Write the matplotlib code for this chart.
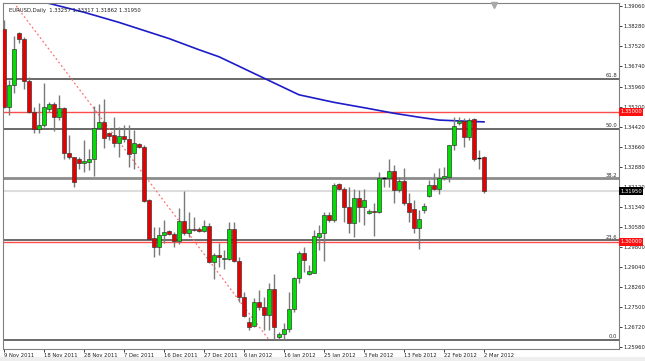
"""EURUSD daily candles with 200 MA, fibonacci retracement and key levels."""
import matplotlib.pyplot as plt
from matplotlib.patches import Rectangle
from matplotlib.transforms import blended_transform_factory

# daily bars from 9 Nov 2011 to 2 Mar 2012 (broker shows Sunday bars too)
opens = [1.3818, 1.3518, 1.3603, 1.3802, 1.3779, 1.3618, 1.3499, 1.3434, 1.3449, 1.3510,
         1.3530, 1.3480, 1.3514, 1.3342, 1.3326, 1.3318, 1.3303, 1.3307, 1.3318, 1.3438,
         1.3461, 1.3418, 1.3411, 1.3380, 1.3407, 1.3395, 1.3342, 1.3376, 1.3365, 1.3161,
         1.3015, 1.2981, 1.3027, 1.3042, 1.3030, 1.3004, 1.3080, 1.3034, 1.3050, 1.3050,
         1.3042, 1.3061, 1.2923, 1.2950, 1.2934, 1.2934, 1.3050, 1.2927, 1.2789, 1.2693,
         1.2677, 1.2769, 1.2750, 1.2719, 1.2819, 1.2635, 1.2646, 1.2666, 1.2742, 1.2862,
         1.2958, 1.2877, 1.2881, 1.3019, 1.3034, 1.3103, 1.3084, 1.3222, 1.3203, 1.3134,
         1.3073, 1.3169, 1.3134, 1.3111, 1.3119, 1.3115, 1.3246, 1.3246, 1.3272, 1.3199,
         1.3234, 1.3150, 1.3126, 1.3054, 1.3123, 1.3176, 1.3219, 1.3203, 1.3246, 1.3249,
         1.3372, 1.3457, 1.3464, 1.3403, 1.3472, 1.3324, 1.33257]
highs = [1.3852, 1.3622, 1.3791, 1.3806, 1.3787, 1.3633, 1.3518, 1.3534, 1.3610, 1.3537,
         1.3537, 1.3564, 1.3518, 1.3411, 1.3326, 1.3326, 1.3391, 1.3357, 1.3522, 1.3530,
         1.3549, 1.3422, 1.3480, 1.3441, 1.3449, 1.3449, 1.3430, 1.3380, 1.3372, 1.3165,
         1.3057, 1.3057, 1.3084, 1.3046, 1.3038, 1.3130, 1.3196, 1.3115, 1.3096, 1.3057,
         1.3084, 1.3073, 1.2958, 1.2996, 1.2969, 1.3077, 1.3077, 1.2942, 1.2808, 1.2712,
         1.2786, 1.2816, 1.2789, 1.2842, 1.2877, 1.2654, 1.2689, 1.2808, 1.2865, 1.2965,
         1.2981, 1.2911, 1.3046, 1.3065, 1.3115, 1.3115, 1.3226, 1.3226, 1.3211, 1.3211,
         1.3203, 1.3199, 1.3203, 1.3126, 1.3150, 1.3269, 1.3249, 1.3318, 1.3295, 1.3249,
         1.3284, 1.3188, 1.3161, 1.3123, 1.3150, 1.3238, 1.3265, 1.3284, 1.3288, 1.3372,
         1.3480, 1.3480, 1.3476, 1.3476, 1.3476, 1.3353, 1.33317]
lows = [1.3514, 1.3487, 1.3572, 1.3764, 1.3587, 1.3495, 1.3418, 1.3418, 1.3441, 1.3499,
        1.3426, 1.3468, 1.3318, 1.3318, 1.3211, 1.3280, 1.3269, 1.3276, 1.3253, 1.3434,
        1.3361, 1.3391, 1.3365, 1.3326, 1.3384, 1.3288, 1.3280, 1.3361, 1.3153, 1.3007,
        1.2942, 1.2950, 1.2996, 1.3027, 1.2981, 1.2992, 1.3027, 1.3019, 1.3042, 1.3038,
        1.3038, 1.2919, 1.2858, 1.2904, 1.2896, 1.2931, 1.2923, 1.2769, 1.2712, 1.2662,
        1.2673, 1.2739, 1.2662, 1.2662, 1.2623, 1.2627, 1.2623, 1.2654, 1.2731, 1.2842,
        1.2885, 1.2873, 1.2881, 1.2969, 1.2927, 1.3077, 1.3077, 1.3199, 1.3077, 1.3034,
        1.3019, 1.3077, 1.3065, 1.3107, 1.3023, 1.3111, 1.3211, 1.3211, 1.3150, 1.3192,
        1.3142, 1.3077, 1.3034, 1.2973, 1.3111, 1.3173, 1.3199, 1.3184, 1.3238, 1.3230,
        1.3353, 1.3449, 1.3365, 1.3391, 1.3311, 1.3280, 1.31862]
closes = [1.3518, 1.3603, 1.3741, 1.3779, 1.3618, 1.3499, 1.3434, 1.3449, 1.3518, 1.3530,
          1.3480, 1.3514, 1.3342, 1.3326, 1.3230, 1.3303, 1.3311, 1.3318, 1.3438, 1.3461,
          1.3399, 1.3407, 1.3380, 1.3407, 1.3395, 1.3338, 1.3380, 1.3365, 1.3157, 1.3011,
          1.2981, 1.3027, 1.3038, 1.3030, 1.3004, 1.3080, 1.3034, 1.3050, 1.3046, 1.3042,
          1.3061, 1.2923, 1.2950, 1.2942, 1.2938, 1.3050, 1.2927, 1.2789, 1.2716, 1.2673,
          1.2769, 1.2750, 1.2719, 1.2819, 1.2673, 1.2646, 1.2666, 1.2742, 1.2862, 1.2958,
          1.2931, 1.2888, 1.3023, 1.3034, 1.3103, 1.3084, 1.3219, 1.3203, 1.3134, 1.3073,
          1.3169, 1.3134, 1.3161, 1.3119, 1.3115, 1.3246, 1.3246, 1.3272, 1.3199, 1.3234,
          1.3150, 1.3115, 1.3054, 1.3088, 1.3138, 1.3219, 1.3203, 1.3246, 1.3253, 1.3372,
          1.3445, 1.3464, 1.3403, 1.3468, 1.3318, 1.3324, 1.31950]

ma_idx = [0, 9, 16, 23, 33, 39, 43, 51, 59, 66, 73, 78, 83, 87, 93, 96]
ma_val = [1.3955, 1.3916, 1.3882, 1.3843, 1.3781, 1.3738, 1.3711, 1.3638, 1.3565,
          1.3536, 1.3512, 1.3494, 1.3479, 1.3468, 1.3463, 1.3461]

date_idx = [0, 8, 16, 24, 32, 40, 48, 56, 64, 72, 80, 88, 96]
date_lbl = ['9 Nov 2011', '18 Nov 2011', '28 Nov 2011', '7 Dec 2011', '16 Dec 2011',
            '27 Dec 2011', '6 Jan 2012', '16 Jan 2012', '25 Jan 2012', '3 Feb 2012',
            '13 Feb 2012', '22 Feb 2012', '2 Mar 2012']
price_ticks = [1.39060, 1.38280, 1.37520, 1.36740, 1.35960, 1.35200, 1.34420, 1.33660,
               1.32880, 1.32120, 1.31340, 1.30580, 1.29800, 1.29040, 1.28260, 1.27500,
               1.26720, 1.25960]

fib_low, fib_high = 1.2624, 1.4247
fib_pct = [0.0, 23.6, 38.2, 50.0, 61.8]
fib_start_idx, fib_end_idx = -11, 53
red_levels = [1.35000, 1.30000]
last_price = 1.31950

fig = plt.figure(figsize=(6.45, 3.61), dpi=100, facecolor='white')
ax = fig.add_axes([3 / 645, 12 / 361, 616 / 645, 346 / 361])
ax.set_xlim(-0.2, 123)
ax.set_ylim(1.25888, 1.39175)

# outer gray strip under the date labels
fig.patches.append(Rectangle((0, 0), 1, 4 / 361, transform=fig.transFigure,
                             facecolor='#eeeeee', edgecolor='none'))

yax = blended_transform_factory(ax.transAxes, ax.transData)

# levels
for pct in fib_pct:
    lvl = fib_low + (fib_high - fib_low) * pct / 100
    col, lw = ('#8c8c8c', 2.0) if pct == 38.2 else ('#505050', 1.2)
    ax.axhline(lvl, color=col, lw=lw, zorder=1)
    ax.text(0.997, lvl + 0.0002, f'{pct:.1f}', transform=yax,
            ha='right', va='bottom', fontsize=3.8, color='#303030')
for lvl in red_levels:
    ax.axhline(lvl, color='#ff4d4d', lw=1.0, zorder=1)
ax.axhline(last_price, color='#dddddd', lw=1.5, zorder=0.5)

# fibonacci trend line
ax.plot([fib_start_idx, fib_end_idx], [fib_high, fib_low], color='#ff7070',
        lw=0.9, ls=(0, (1.5, 2)), zorder=1.5)

# moving average
ax.plot(ma_idx, ma_val, color='#1c1cc8', lw=1.2, zorder=2)

# candles
n = len(opens)
xs = list(range(n))
ax.vlines(xs, lows, highs, color='#7a7a7a', lw=1.0, zorder=3)
for i in xs:
    o, c = opens[i], closes[i]
    if abs(c - o) < 0.00005:
        ax.hlines(o, i - 0.35, i + 0.35, color='black', lw=1.0, zorder=4)
        continue
    col = '#00e000' if c > o else '#e80000'
    ax.bar(i, abs(c - o), bottom=min(o, c), width=0.62, color=col,
           edgecolor='#3a3a3a', linewidth=0.5, zorder=4)

# axes styling
for side in ['left', 'top', 'right', 'bottom']:
    ax.spines[side].set_color('#808080')
    ax.spines[side].set_linewidth(0.8)
ax.yaxis.tick_right()
ax.set_yticks(price_ticks)
ax.set_yticklabels([f'{p:.5f}' for p in price_ticks])
ax.tick_params(axis='y', length=2, width=0.6, pad=1.5, labelsize=3.8, colors='#202020')
ax.set_xticks(date_idx)
ax.set_xticklabels(date_lbl, ha='left')
ax.tick_params(axis='x', length=2, width=0.6, pad=1, labelsize=3.8, colors='#202020')

# price boxes on the scale
for lvl in red_levels:
    ax.text(1.002, lvl, f'{lvl:.5f}', transform=yax, ha='left', va='center', fontsize=3.8,
            color='white', bbox=dict(boxstyle='square,pad=0.25', fc='#ff1010', ec='none'))
ax.text(1.002, last_price, f'{last_price:.5f}', transform=yax, ha='left', va='center',
        fontsize=3.8, color='white', bbox=dict(boxstyle='square,pad=0.25', fc='black', ec='none'))

# header and chart shift marker
ax.text(0.01, 0.985, 'EURUSD,Daily  1.33257 1.33317 1.31862 1.31950', transform=ax.transAxes,
        ha='left', va='top', fontsize=3.8, color='#202020', zorder=6)
ax.plot([98], [0.995], marker='v', color='#a8a8a8', ms=4, transform=ax.get_xaxis_transform(),
        clip_on=False, zorder=6)

fig.savefig('out.png', dpi=100, facecolor=fig.get_facecolor())
